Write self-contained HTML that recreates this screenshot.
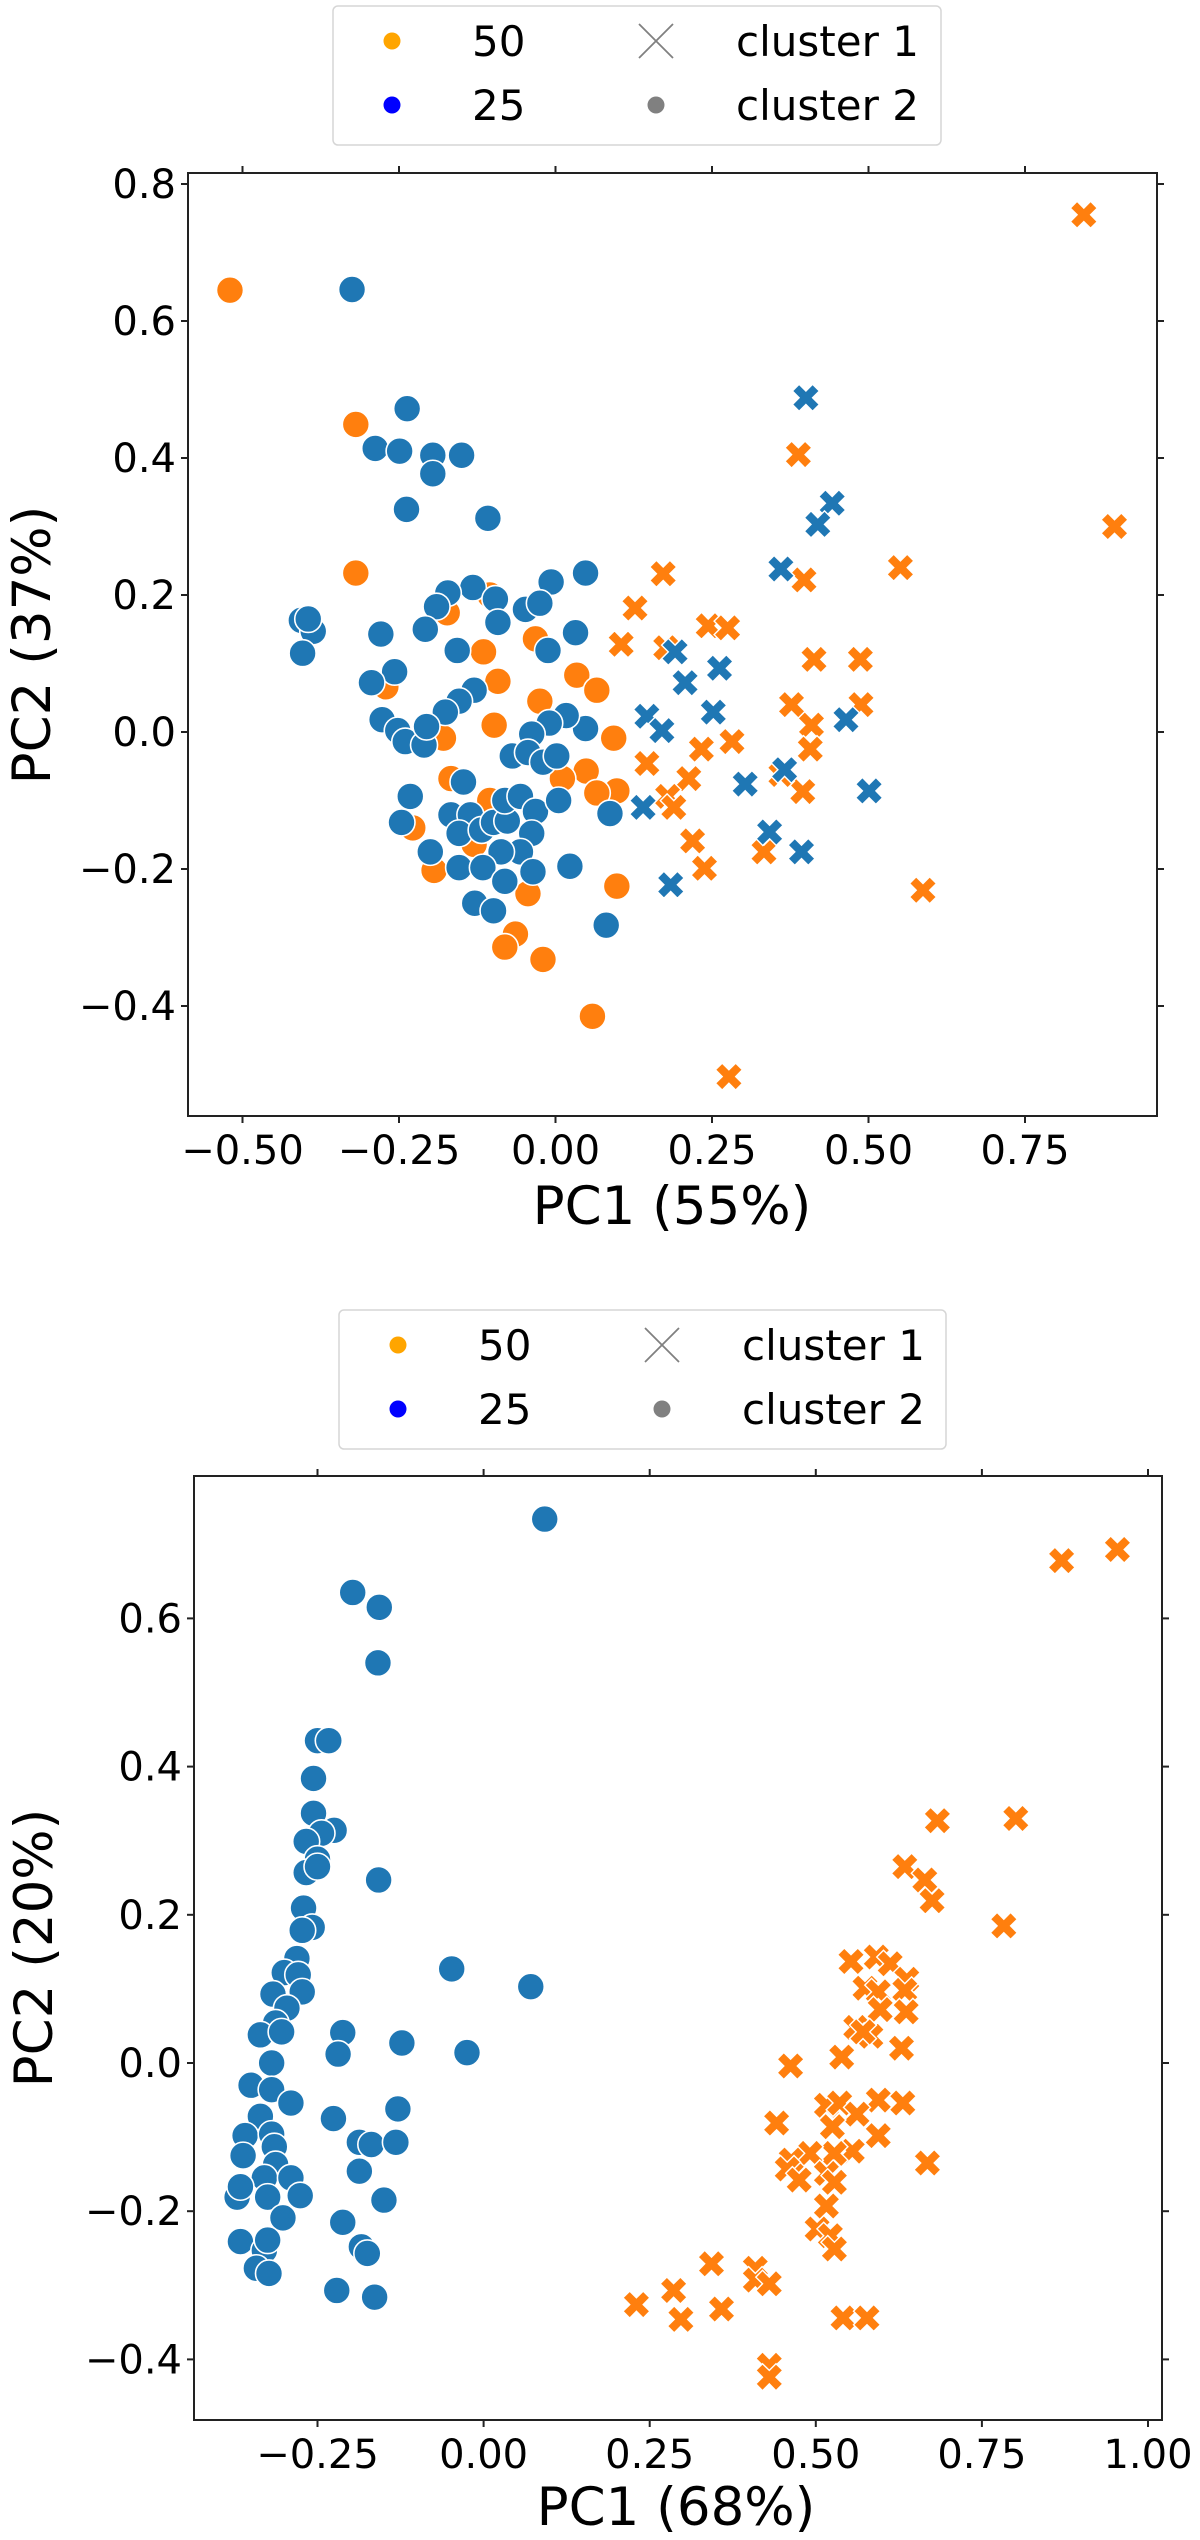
<!DOCTYPE html>
<html><head><meta charset="utf-8">
<style>
html,body{margin:0;padding:0;background:#fff;}
svg{display:block;font-family:"DejaVu Sans","Liberation Sans",sans-serif;}
</style></head>
<body>
<svg id="fig" width="1200" height="2540" viewBox="0 0 1200 2540" xmlns="http://www.w3.org/2000/svg"></svg>
<script>
// ---------- Top chart data ----------
const topXTicks = [-0.50, -0.25, 0.00, 0.25, 0.50, 0.75];
const topYTicks = [-0.4, -0.2, 0.0, 0.2, 0.4, 0.6, 0.8];
const topOrangeCircleX = [-0.52,-0.319,-0.319,-0.115,-0.092,-0.098,-0.025,0.034,0.066,0.093,0.049,0.098,0.098,-0.020,-0.064,-0.081,0.059,-0.044,-0.194,-0.167,-0.228,-0.105,-0.032,-0.105,-0.173,-0.271,-0.179,0.011,0.066,-0.130];
const topOrangeCircleY = [0.645,0.449,0.232,0.117,0.074,0.010,0.045,0.083,0.061,-0.009,-0.057,-0.086,-0.225,-0.332,-0.295,-0.314,-0.415,-0.236,-0.202,-0.068,-0.140,-0.100,0.136,0.200,0.174,0.066,-0.009,-0.068,-0.089,-0.164];
const topBlueCircleX = [-0.325,-0.237,-0.288,-0.249,-0.196,-0.196,-0.150,-0.238,-0.108,0.048,-0.007,-0.132,-0.172,-0.190,-0.096,-0.048,-0.025,-0.092,-0.208,-0.279,-0.157,-0.012,0.032,-0.406,-0.387,-0.404,-0.395,-0.257,-0.294,-0.130,-0.154,-0.176,-0.277,-0.252,-0.240,-0.210,-0.206,0.048,0.017,-0.010,-0.038,-0.069,-0.044,-0.020,0.002,-0.232,-0.246,-0.147,-0.167,-0.136,-0.154,-0.118,-0.099,-0.077,-0.081,-0.056,-0.032,0.005,-0.038,-0.056,-0.087,-0.200,-0.154,-0.116,-0.081,-0.036,0.023,-0.129,-0.099,0.087,0.081];
const topBlueCircleY = [0.646,0.472,0.414,0.410,0.404,0.377,0.404,0.325,0.312,0.232,0.219,0.211,0.203,0.183,0.194,0.179,0.188,0.160,0.150,0.143,0.119,0.119,0.145,0.163,0.147,0.115,0.165,0.088,0.072,0.061,0.045,0.029,0.018,0.002,-0.014,-0.019,0.008,0.005,0.024,0.013,-0.003,-0.035,-0.030,-0.044,-0.035,-0.094,-0.132,-0.073,-0.121,-0.121,-0.148,-0.143,-0.132,-0.130,-0.100,-0.094,-0.116,-0.100,-0.148,-0.175,-0.175,-0.175,-0.198,-0.198,-0.218,-0.204,-0.196,-0.250,-0.261,-0.119,-0.282];
const topOrangeCrossX = [0.844,0.893,0.388,0.397,0.172,0.127,0.105,0.244,0.275,0.551,0.413,0.487,0.377,0.409,0.488,0.407,0.282,0.233,0.146,0.213,0.179,0.219,0.238,0.333,0.395,0.587,0.277,0.176,0.360,0.189];
const topOrangeCrossY = [0.755,0.300,0.405,0.222,0.231,0.181,0.128,0.155,0.152,0.240,0.106,0.106,0.040,0.010,0.040,-0.025,-0.014,-0.025,-0.046,-0.068,-0.094,-0.159,-0.199,-0.175,-0.087,-0.231,-0.503,0.123,-0.062,-0.110];
const topBlueCrossX = [0.400,0.442,0.419,0.360,0.191,0.207,0.262,0.146,0.170,0.252,0.303,0.366,0.464,0.501,0.140,0.342,0.393,0.184];
const topBlueCrossY = [0.488,0.334,0.303,0.238,0.117,0.072,0.093,0.023,0.002,0.029,-0.076,-0.055,0.018,-0.086,-0.110,-0.146,-0.175,-0.223];

// ---------- Bottom chart data ----------
const botXTicks = [-0.25, 0.00, 0.25, 0.50, 0.75, 1.00];
const botYTicks = [-0.4, -0.2, 0.0, 0.2, 0.4, 0.6];
const botBlueCircleX = [0.092,-0.197,-0.157,-0.159,-0.250,-0.233,-0.256,-0.256,-0.225,-0.244,-0.267,-0.250,-0.267,-0.250,-0.158,-0.271,-0.258,-0.273,-0.281,-0.300,-0.279,-0.317,-0.273,-0.296,-0.313,-0.336,-0.304,-0.212,-0.219,-0.048,0.071,-0.025,-0.123,-0.319,-0.350,-0.319,-0.290,-0.336,-0.359,-0.319,-0.315,-0.362,-0.313,-0.330,-0.290,-0.276,-0.371,-0.366,-0.325,-0.302,-0.366,-0.330,-0.342,-0.323,-0.325,-0.226,-0.129,-0.187,-0.169,-0.132,-0.187,-0.150,-0.212,-0.184,-0.175,-0.221,-0.164];
const botBlueCircleY = [0.734,0.635,0.615,0.540,0.435,0.435,0.384,0.337,0.314,0.310,0.299,0.275,0.257,0.265,0.247,0.209,0.183,0.179,0.141,0.122,0.119,0.093,0.096,0.074,0.054,0.038,0.042,0.041,0.012,0.127,0.103,0.014,0.027,0.000,-0.030,-0.036,-0.054,-0.072,-0.098,-0.096,-0.113,-0.125,-0.137,-0.155,-0.155,-0.179,-0.181,-0.167,-0.181,-0.209,-0.241,-0.253,-0.277,-0.284,-0.239,-0.075,-0.062,-0.107,-0.110,-0.107,-0.146,-0.185,-0.215,-0.248,-0.257,-0.307,-0.316];
const botOrangeCrossX = [0.954,0.870,0.683,0.801,0.634,0.664,0.675,0.783,0.553,0.591,0.612,0.637,0.574,0.594,0.634,0.597,0.636,0.560,0.583,0.571,0.629,0.539,0.462,0.516,0.536,0.594,0.631,0.562,0.441,0.525,0.594,0.668,0.555,0.528,0.491,0.463,0.457,0.475,0.516,0.528,0.516,0.502,0.522,0.528,0.343,0.409,0.409,0.430,0.286,0.230,0.297,0.358,0.541,0.577,0.430,0.430];
const botOrangeCrossY = [0.693,0.678,0.327,0.330,0.265,0.247,0.219,0.185,0.137,0.143,0.134,0.113,0.101,0.096,0.098,0.072,0.069,0.048,0.036,0.042,0.020,0.008,-0.004,-0.057,-0.054,-0.050,-0.054,-0.069,-0.081,-0.086,-0.098,-0.135,-0.119,-0.122,-0.122,-0.131,-0.143,-0.158,-0.149,-0.161,-0.193,-0.224,-0.233,-0.251,-0.271,-0.277,-0.293,-0.298,-0.307,-0.326,-0.346,-0.332,-0.344,-0.344,-0.408,-0.424];

const NS = 'http://www.w3.org/2000/svg';
const svg = document.getElementById('fig');
const ORANGE = '#ff7f0e', BLUE = '#1f77b4';

function mk(tag, attrs, parent) {
  const e = document.createElementNS(NS, tag);
  for (const k in attrs) e.setAttribute(k, attrs[k]);
  (parent || svg).appendChild(e);
  return e;
}
function fmt(v, d) {
  const s = Math.abs(v).toFixed(d);
  return (v < -1e-9 ? '\u2212' : '') + s;
}
function xPath(cx, cy, s) {
  const p = [[-0.25,-0.5],[0,-0.25],[0.25,-0.5],[0.5,-0.25],[0.25,0],[0.5,0.25],[0.25,0.5],[0,0.25],[-0.25,0.5],[-0.5,0.25],[-0.25,0],[-0.5,-0.25]];
  return 'M' + p.map(q => (cx + q[0]*s).toFixed(1) + ',' + (cy + q[1]*s).toFixed(1)).join('L') + 'Z';
}

function drawChart(cfg) {
  const g = mk('g', {});
  
  
  const sx = v => cfg.x0 + v * cfg.kx;
  const sy = v => cfg.y0 - v * cfg.ky;
  const L = cfg.left, R = cfg.right, T = cfg.top, B = cfg.bottom;

  // points
  const pts = mk('g', {}, g);
  
  
  cfg.circles.forEach(set => {
    set.x.forEach((xv, i) => {
      const c = mk('circle', {cx: sx(xv), cy: sy(set.y[i]), r: 13.5, fill: set.color, stroke: '#fff', 'stroke-width': 1.6}, pts);
      
      
    });
  });
  cfg.crosses.forEach(set => {
    set.x.forEach((xv, i) => {
      const c = mk('path', {d: xPath(sx(xv), sy(set.y[i]), 27), fill: set.color, stroke: '#fff', 'stroke-width': 1.4}, pts);
      
      
    });
  });

  // frame
  const fr = mk('rect', {x: L, y: T, width: R - L, height: B - T, fill: 'none', stroke: '#222', 'stroke-width': 2}, g);
  
  

  // x ticks
  cfg.xTicks.forEach(v => {
    const x = sx(v);
    mk('line', {x1: x, x2: x, y1: B, y2: B + 7, stroke: '#222', 'stroke-width': 2}, g);
    mk('line', {x1: x, x2: x, y1: T, y2: T - 7, stroke: '#222', 'stroke-width': 2}, g);
    const t = mk('text', {x: x, y: B + 48, 'text-anchor': 'middle', 'font-size': 40, fill: '#000'}, g);
    t.textContent = fmt(v, 2);
    
    
  });
  cfg.yTicks.forEach(v => {
    const y = sy(v);
    mk('line', {x1: L, x2: L - 7, y1: y, y2: y, stroke: '#222', 'stroke-width': 2}, g);
    mk('line', {x1: R, x2: R + 7, y1: y, y2: y, stroke: '#222', 'stroke-width': 2}, g);
    const t = mk('text', {x: L - 12, y: y + 14, 'text-anchor': 'end', 'font-size': 40, fill: '#000'}, g);
    t.textContent = fmt(v, 1);
    
    
  });
  const xl = mk('text', {x: cfg.xlabelX, y: cfg.xlabelY, 'text-anchor': 'middle', 'font-size': 53, fill: '#000'}, g);
  xl.textContent = cfg.xlabel;
  
  
  const yl = mk('text', {x: 0, y: 0, 'text-anchor': 'middle', 'font-size': 53, fill: '#000', transform: 'translate(' + (cfg.ylabelX) + ',' + cfg.ylabelY + ') rotate(-90)'}, g);
  yl.textContent = cfg.ylabel;
  
  

  // legend
  const lg = mk('g', {}, g);
  
  
  const l = cfg.legend;
  mk('rect', {x: l.x, y: l.y, width: l.w, height: l.h, rx: 5, fill: '#fff', stroke: '#d6d6d6', 'stroke-width': 1.5}, lg);
  const r1 = l.y + 35, r2 = l.y + 99;
  const entries = [
    {type: 'dot', color: '#ffa500', text: '50', cx: l.x + 59, cy: r1, tx: l.x + 139, name: 'legend-entry-50'},
    {type: 'dot', color: '#0000ff', text: '25', cx: l.x + 59, cy: r2, tx: l.x + 139, name: 'legend-entry-25'},
    {type: 'x', color: '#808080', text: 'cluster 1', cx: l.x + 323, cy: r1, tx: l.x + 403, name: 'legend-entry-cluster-1'},
    {type: 'dot', color: '#808080', text: 'cluster 2', cx: l.x + 323, cy: r2, tx: l.x + 403, name: 'legend-entry-cluster-2'}
  ];
  entries.forEach(e => {
    const eg = mk('g', {}, lg);
    
    
    if (e.type === 'dot') mk('circle', {cx: e.cx, cy: e.cy, r: 8.5, fill: e.color}, eg);
    else {
      mk('line', {x1: e.cx - 17, y1: e.cy - 17, x2: e.cx + 17, y2: e.cy + 17, stroke: e.color, 'stroke-width': 1.8}, eg);
      mk('line', {x1: e.cx - 17, y1: e.cy + 17, x2: e.cx + 17, y2: e.cy - 17, stroke: e.color, 'stroke-width': 1.8}, eg);
    }
    const t = mk('text', {x: e.tx, y: e.cy + 15, 'font-size': 42, fill: '#000'}, eg);
    t.textContent = e.text;
  });
}

drawChart({
  name: 'top-chart', x0: 555.5, kx: 626, y0: 732, ky: 685,
  left: 188, right: 1157, top: 173, bottom: 1116,
  xTicks: topXTicks, yTicks: topYTicks,
  xlabel: 'PC1 (55%)', xlabelX: 672, xlabelY: 1224,
  ylabel: 'PC2 (37%)', ylabelX: 50, ylabelY: 645,
  legend: {x: 333, y: 6, w: 608, h: 139},
  circles: [
    {x: topOrangeCircleX, y: topOrangeCircleY, color: ORANGE, name: 'point-50-cluster-2'},
    {x: topBlueCircleX, y: topBlueCircleY, color: BLUE, name: 'point-25-cluster-2'}
  ],
  crosses: [
    {x: topOrangeCrossX, y: topOrangeCrossY, color: ORANGE, name: 'point-50-cluster-1'},
    {x: topBlueCrossX, y: topBlueCrossY, color: BLUE, name: 'point-25-cluster-1'}
  ]
});

drawChart({
  name: 'bottom-chart', x0: 483.6, kx: 664.4, y0: 2063, ky: 741,
  left: 194, right: 1162, top: 1476, bottom: 2420,
  xTicks: botXTicks, yTicks: botYTicks,
  xlabel: 'PC1 (68%)', xlabelX: 676, xlabelY: 2525,
  ylabel: 'PC2 (20%)', ylabelX: 52, ylabelY: 1948,
  legend: {x: 339, y: 1310, w: 607, h: 139},
  circles: [
    {x: botBlueCircleX, y: botBlueCircleY, color: BLUE, name: 'point-25-cluster-2'}
  ],
  crosses: [
    {x: botOrangeCrossX, y: botOrangeCrossY, color: ORANGE, name: 'point-50-cluster-1'}
  ]
});
</script>
</body></html>
